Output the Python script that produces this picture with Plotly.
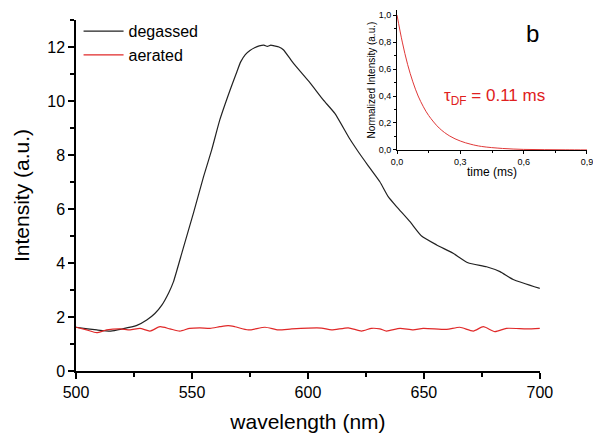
import plotly.graph_objects as go

# degassed spectrum (wavelength nm, intensity a.u.)
wl_degassed = [500, 505, 509, 515, 520, 526, 530.5, 534, 537, 540, 542, 546, 550.6, 555, 558.5,
               562, 566.4, 569, 571, 573, 575, 577, 579, 581, 582.5, 584, 585.5, 587.5, 589.4, 593.7,
               601, 606.6, 611.6, 618, 621.7, 626, 631, 634.6, 638.2, 644, 649, 655.5, 662.6,
               669, 677, 682.8, 688.5, 700]
int_degassed = [1.62, 1.56, 1.52, 1.48, 1.56, 1.68, 1.89, 2.13, 2.44, 2.9, 3.3, 4.48, 5.84, 7.2, 8.19,
                9.3, 10.4, 11.0, 11.45, 11.72, 11.87, 11.97, 12.04, 12.07, 12.02, 12.07, 12.04, 12.0, 11.9, 11.4,
                10.66, 10.04, 9.54, 8.6, 8.12, 7.6, 7.01, 6.46, 6.09, 5.53, 5.0, 4.67, 4.36,
                4.01, 3.86, 3.68, 3.39, 3.06]

# aerated spectrum
wl_aerated = [500, 504.6, 508.9, 513.2, 519, 523.3, 527.6, 531.9, 536.2, 540.5, 544.8, 549, 553.4,
              557.8, 562, 565.6, 568.5, 574.3, 581.5, 587.2, 593, 600.1, 605.9, 610.2, 617.4, 623.1,
              627.4, 631, 633.9, 639.7, 645.4, 649.7, 659.8, 665.5, 671.3, 675.6, 680.6, 685.6,
              694.3, 700]
int_aerated = [1.62, 1.52, 1.42, 1.52, 1.56, 1.52, 1.58, 1.48, 1.64, 1.56, 1.48, 1.58, 1.6,
               1.58, 1.64, 1.68, 1.64, 1.52, 1.62, 1.52, 1.56, 1.59, 1.59, 1.52, 1.6, 1.48,
               1.58, 1.56, 1.48, 1.58, 1.52, 1.58, 1.54, 1.62, 1.48, 1.64, 1.46, 1.58,
               1.56, 1.58]

# inset decay
t_ms = [0, 0.025, 0.05, 0.075, 0.1, 0.125, 0.15, 0.2, 0.25, 0.3, 0.35, 0.4, 0.5, 0.6, 0.7, 0.8, 0.9]
norm_int = [1.0, 0.80, 0.635, 0.505, 0.40, 0.32, 0.255, 0.162, 0.103, 0.066, 0.042, 0.026,
            0.011, 0.004, 0.002, 0.001, 0.0]

FONT = "Arial, Liberation Sans, sans-serif"

fig = go.Figure()
fig.add_trace(go.Scatter(x=wl_degassed, y=int_degassed, mode="lines", name="degassed",
                         line=dict(color="#222222", width=1.2, shape="spline", smoothing=0.5)))
fig.add_trace(go.Scatter(x=wl_aerated, y=int_aerated, mode="lines", name="aerated",
                         line=dict(color="#e02828", width=1.2, shape="spline", smoothing=0.6)))
fig.add_trace(go.Scatter(x=t_ms, y=norm_int, mode="lines", showlegend=False,
                         line=dict(color="#e03838", width=1, shape="spline"),
                         xaxis="x2", yaxis="y2"))

fig.update_layout(
    width=593, height=440,
    margin=dict(l=76, r=5, t=5, b=69, autoexpand=False),
    paper_bgcolor="white", plot_bgcolor="white",
    separators=",.",
    font=dict(family=FONT, color="black"),
    showlegend=True,
    legend=dict(x=0.005, y=0.975, xanchor="left", yanchor="top",
                font=dict(size=16, family=FONT), itemwidth=40,
                bgcolor="rgba(0,0,0,0)", tracegroupgap=0),
    xaxis=dict(domain=[0, 0.906], range=[500, 700], dtick=50, tick0=500, automargin=False,
               showline=True, linecolor="black", linewidth=1.5, mirror=False,
               ticks="outside", ticklen=6, tickwidth=1.5, tickcolor="black",
               minor=dict(ticks="outside", dtick=25, ticklen=4, tickwidth=1.5, tickcolor="black"),
               showgrid=False, zeroline=False,
               tickfont=dict(size=16),
               title=dict(text="wavelength (nm)", font=dict(size=21), standoff=14)),
    yaxis=dict(domain=[0, 0.959], range=[0, 13], dtick=2, tick0=0, automargin=False,
               showline=True, linecolor="black", linewidth=1.5,
               ticks="outside", ticklen=6, tickwidth=1.5, tickcolor="black",
               minor=dict(ticks="outside", dtick=1, ticklen=4, tickwidth=1.5, tickcolor="black"),
               showgrid=False, zeroline=False,
               tickfont=dict(size=16),
               title=dict(text="Intensity (a.u.)", font=dict(size=21), standoff=12)),
    xaxis2=dict(domain=[0.627, 0.998], range=[0, 0.9], dtick=0.3, tick0=0, anchor="y2",
                tickformat=".1f", automargin=False, ticklabeloverflow="allow",
                showline=True, linecolor="black", linewidth=1,
                ticks="outside", ticklen=3, tickwidth=1, tickcolor="black",
                minor=dict(ticks="outside", dtick=0.15, ticklen=2, tickwidth=1, tickcolor="black"),
                showgrid=False, zeroline=False,
                tickfont=dict(size=9),
                title=dict(text="time (ms)", font=dict(size=12), standoff=1)),
    yaxis2=dict(domain=[0.604, 0.986], range=[0, 1.037], dtick=0.2, tick0=0, anchor="x2",
                tickformat=".1f", automargin=False,
                showline=True, linecolor="black", linewidth=1,
                ticks="outside", ticklen=3, tickwidth=1, tickcolor="black",
                minor=dict(ticks="outside", dtick=0.1, ticklen=2, tickwidth=1, tickcolor="black"),
                showgrid=False, zeroline=False,
                tickfont=dict(size=9),
                title=dict(text="Normalized Intensity (a.u.)", font=dict(size=10), standoff=1)),
    annotations=[
        dict(text="τ<sub>DF</sub> = 0.11 ms", x=0.46, y=0.39, xref="x2", yref="y2",
             xanchor="center", yanchor="middle", showarrow=False,
             font=dict(size=17, color="#e02020", family=FONT)),
        dict(text="b", x=0.64, y=0.867, xref="x2", yref="y2",
             xanchor="center", yanchor="middle", showarrow=False,
             font=dict(size=24, color="black", family=FONT)),
    ],
)

fig.write_html("out.html")
